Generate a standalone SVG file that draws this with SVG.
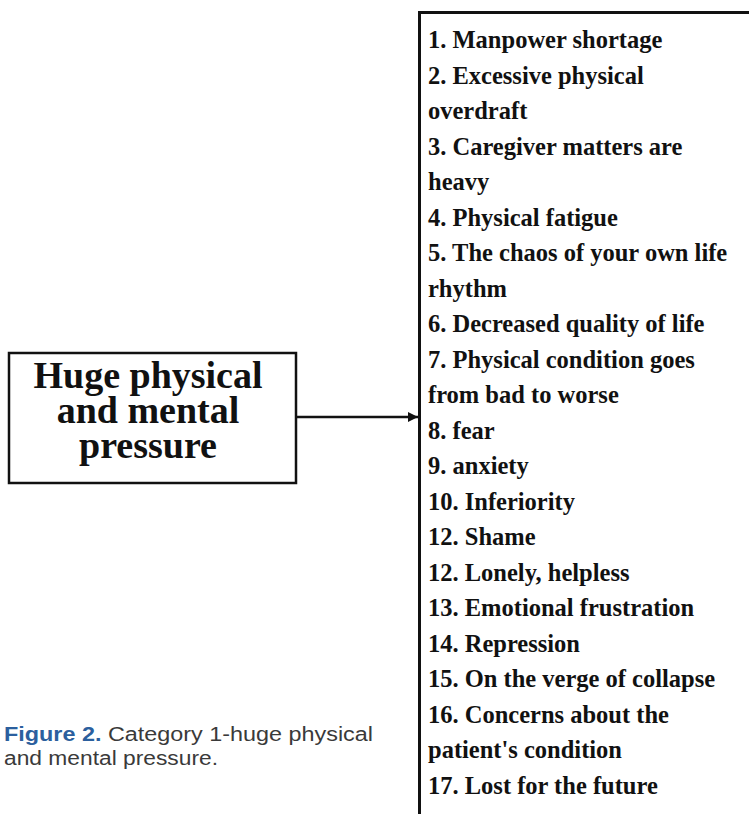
<svg xmlns="http://www.w3.org/2000/svg" width="749" height="814" viewBox="0 0 749 814">
<style>
.item{font-family:"Liberation Serif","Times New Roman",serif;font-weight:bold;font-size:24.5px;fill:#111}
.main{font-family:"Liberation Serif","Times New Roman",serif;font-weight:bold;font-size:38px;fill:#111;text-anchor:middle}
.cap{font-family:"Liberation Sans",Arial,sans-serif;font-size:20px;fill:#3a3a3a}
.fig{font-weight:bold;fill:#2b5f9e}
.box{fill:#fff;stroke:#111;stroke-width:2.5}
.conn{stroke:#111;stroke-width:2.5;fill:none}
</style>
<defs>
<marker id="ah" viewBox="0 0 10 10" refX="10" refY="5" markerWidth="10" markerHeight="10" markerUnits="userSpaceOnUse" orient="auto">
<path d="M0,0 L10,5 L0,10 z" fill="#111"/>
</marker>
</defs>
<rect width="749" height="814" fill="#fff"/>
<g id="node-main">
<rect class="box" x="9" y="353" width="287" height="130"/>
<text class="main" x="148" y="388">Huge physical</text>
<text class="main" x="148" y="423">and mental</text>
<text class="main" x="148" y="458">pressure</text>
</g>
<g id="node-list">
<path d="M749,12.5 H419.5 V814" fill="none" stroke="#111" stroke-width="3"/>
<text class="item" x="428" y="48">1. Manpower shortage</text>
<text class="item" x="428" y="83.5">2. Excessive physical</text>
<text class="item" x="428" y="119">overdraft</text>
<text class="item" x="428" y="154.5">3. Caregiver matters are</text>
<text class="item" x="428" y="190">heavy</text>
<text class="item" x="428" y="225.5">4. Physical fatigue</text>
<text class="item" x="428" y="261">5. The chaos of your own life</text>
<text class="item" x="428" y="296.5">rhythm</text>
<text class="item" x="428" y="332">6. Decreased quality of life</text>
<text class="item" x="428" y="367.5">7. Physical condition goes</text>
<text class="item" x="428" y="403">from bad to worse</text>
<text class="item" x="428" y="438.5">8. fear</text>
<text class="item" x="428" y="474">9. anxiety</text>
<text class="item" x="428" y="509.5">10. Inferiority</text>
<text class="item" x="428" y="545">12. Shame</text>
<text class="item" x="428" y="580.5">12. Lonely, helpless</text>
<text class="item" x="428" y="616">13. Emotional frustration</text>
<text class="item" x="428" y="651.5">14. Repression</text>
<text class="item" x="428" y="687">15. On the verge of collapse</text>
<text class="item" x="428" y="722.5">16. Concerns about the</text>
<text class="item" x="428" y="758">patient's condition</text>
<text class="item" x="428" y="793.5">17. Lost for the future</text>
</g>
<g id="connectors">
<line class="conn" x1="296" y1="417" x2="418" y2="417" marker-end="url(#ah)"/>
</g>
<g id="caption">
<text class="cap" x="4" y="741" textLength="369" lengthAdjust="spacingAndGlyphs"><tspan class="fig">Figure 2.</tspan> Category 1-huge physical</text>
<text class="cap" x="4" y="765" textLength="214" lengthAdjust="spacingAndGlyphs">and mental pressure.</text>
</g>
</svg>
